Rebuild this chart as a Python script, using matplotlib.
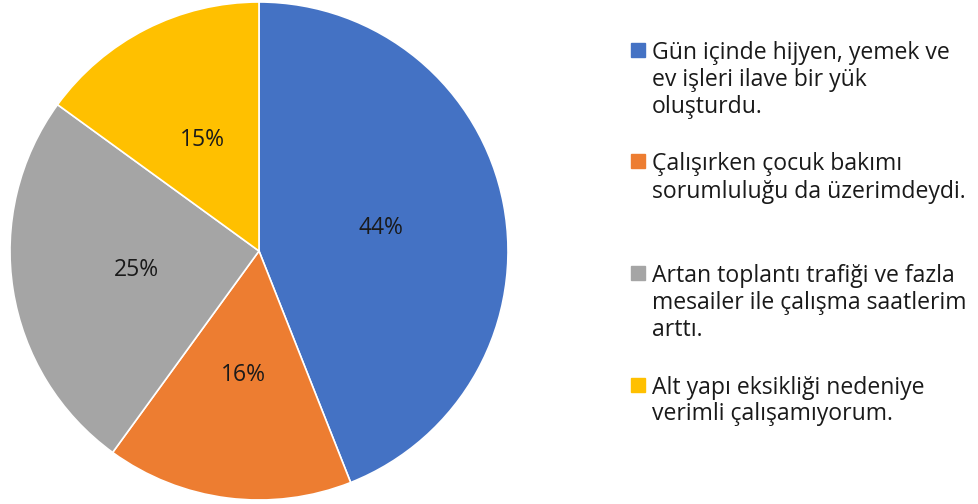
import matplotlib.pyplot as plt
from matplotlib.patches import Rectangle

# Survey answers and their shares (%)
labels = [
    "Gün içinde hijyen, yemek ve\nev işleri ilave bir yük\noluşturdu.",
    "Çalışırken çocuk bakımı\nsorumluluğu da üzerimdeydi.",
    "Artan toplantı trafiği ve fazla\nmesailer ile çalışma saatlerim\narttı.",
    "Alt yapı eksikliği nedeniye\nverimli çalışamıyorum.",
]
shares = [44, 16, 25, 15]
colors = ["#4472C4", "#ED7D31", "#A5A5A5", "#FFC000"]

plt.rcParams["font.family"] = ["Open Sans", "DejaVu Sans"]

W, H = 979, 504
fig = plt.figure(figsize=(W / 100, H / 100), dpi=100)

# square axes for the pie, centre at (259, 251) px
ax = fig.add_axes([(259 - 250) / W, (H - 251 - 250) / H, 500 / W, 500 / H])
ax.pie(shares, colors=colors, startangle=90, counterclock=False,
       radius=249 / 250, autopct="%d%%", pctdistance=0.5,
       wedgeprops=dict(edgecolor="white", linewidth=1.2),
       textprops=dict(fontsize=16.5, color="#1a1a1a"))
ax.set_xlim(-1, 1)
ax.set_ylim(-1, 1)
ax.set_aspect("equal")
ax.axis("off")

# legend, one fixed slot per entry, one text per line
top_px = 50
slot_px = 111.5
line_px = 27
for i, (lab, col) in enumerate(zip(labels, colors)):
    y = top_px + i * slot_px
    fig.patches.append(Rectangle((631 / W, 1 - (y + 7) / H), 14 / W, 14 / H,
                                 transform=fig.transFigure, color=col))
    for k, line in enumerate(lab.split("\n")):
        fig.text(652 / W, 1 - (y + k * line_px) / H, line, fontsize=16.6,
                 color="#1a1a1a", va="center_baseline", ha="left")

fig.savefig("out.png", dpi=100)
